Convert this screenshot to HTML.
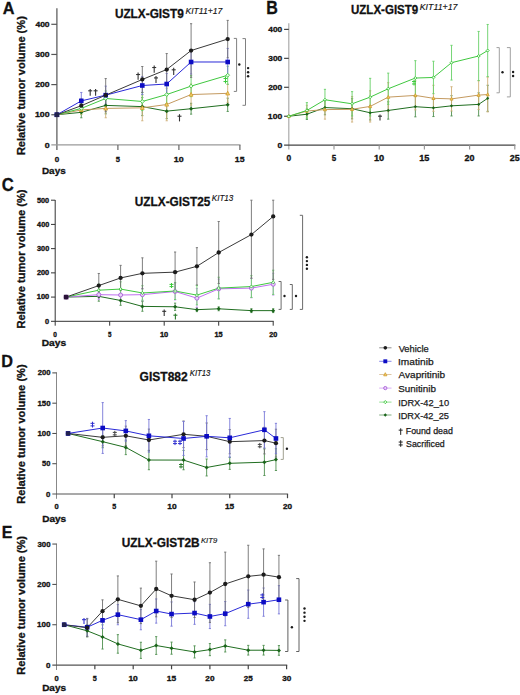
<!DOCTYPE html>
<html><head><meta charset="utf-8"><title>Tumor volume figure</title>
<style>
html,body{margin:0;padding:0;background:#fff;}
body{width:520px;height:695px;overflow:hidden;}
svg{display:block;font-family:"Liberation Sans", sans-serif;}
</style></head>
<body>
<svg width="520" height="695" viewBox="0 0 520 695" font-family='"Liberation Sans", sans-serif'>
<rect width="520" height="695" fill="#fff"/>
<text x="2.79" y="13.65" font-size="17.03" font-weight="bold" fill="#111" stroke="#111" stroke-width="0.3" textLength="11.75" lengthAdjust="spacingAndGlyphs">A</text>
<text x="114.89" y="18.40" font-size="12.57" font-weight="bold" fill="#111" stroke="#111" stroke-width="0.3" textLength="68.91" lengthAdjust="spacingAndGlyphs">UZLX-GIST9</text>
<text x="185.46" y="13.73" font-size="8.71" font-weight="normal" font-style="italic" fill="#111" stroke="#111" stroke-width="0.14" textLength="36.96" lengthAdjust="spacingAndGlyphs">KIT11+17</text>
<text transform="translate(25.15,155.12) rotate(-90)" x="0" y="0" font-size="11.09" font-weight="bold" fill="#111" stroke="#111" stroke-width="0.3" textLength="138.95" lengthAdjust="spacingAndGlyphs">Relative tumor volume (%)</text>
<line x1="56.9" y1="8.2" x2="56.9" y2="149.9" stroke="#555" stroke-width="1.2"/>
<line x1="51.3" y1="144.9" x2="240.5" y2="144.9" stroke="#9a9a9a" stroke-width="1.2"/>
<text x="44.70" y="147.55" font-size="7.29" font-weight="bold" fill="#111" stroke="#111" stroke-width="0.3" textLength="4.92" lengthAdjust="spacingAndGlyphs">0</text>
<line x1="51.3" y1="114.75" x2="56.9" y2="114.75" stroke="#555" stroke-width="1.2"/>
<text x="34.98" y="117.40" font-size="7.29" font-weight="bold" fill="#111" stroke="#111" stroke-width="0.3" textLength="14.65" lengthAdjust="spacingAndGlyphs">100</text>
<line x1="51.3" y1="84.60" x2="56.9" y2="84.60" stroke="#555" stroke-width="1.2"/>
<text x="35.25" y="87.25" font-size="7.29" font-weight="bold" fill="#111" stroke="#111" stroke-width="0.3" textLength="14.38" lengthAdjust="spacingAndGlyphs">200</text>
<line x1="51.3" y1="54.45" x2="56.9" y2="54.45" stroke="#555" stroke-width="1.2"/>
<text x="35.34" y="57.10" font-size="7.29" font-weight="bold" fill="#111" stroke="#111" stroke-width="0.3" textLength="14.29" lengthAdjust="spacingAndGlyphs">300</text>
<line x1="51.3" y1="24.30" x2="56.9" y2="24.30" stroke="#555" stroke-width="1.2"/>
<text x="35.42" y="26.95" font-size="7.29" font-weight="bold" fill="#111" stroke="#111" stroke-width="0.3" textLength="14.20" lengthAdjust="spacingAndGlyphs">400</text>
<text x="54.68" y="161.75" font-size="7.29" font-weight="bold" fill="#111" stroke="#111" stroke-width="0.3" textLength="4.45" lengthAdjust="spacingAndGlyphs">0</text>
<line x1="117.90" y1="144.9" x2="117.90" y2="149.9" stroke="#666" stroke-width="1.2"/>
<text x="115.77" y="161.75" font-size="7.39" font-weight="bold" fill="#111" stroke="#111" stroke-width="0.3" textLength="4.23" lengthAdjust="spacingAndGlyphs">5</text>
<line x1="178.90" y1="144.9" x2="178.90" y2="149.9" stroke="#666" stroke-width="1.2"/>
<text x="173.87" y="161.75" font-size="7.29" font-weight="bold" fill="#111" stroke="#111" stroke-width="0.3" textLength="9.85" lengthAdjust="spacingAndGlyphs">10</text>
<line x1="239.90" y1="144.9" x2="239.90" y2="149.9" stroke="#666" stroke-width="1.2"/>
<text x="234.88" y="161.75" font-size="7.39" font-weight="bold" fill="#111" stroke="#111" stroke-width="0.3" textLength="9.71" lengthAdjust="spacingAndGlyphs">15</text>
<text x="41.95" y="174.45" font-size="9.64" font-weight="bold" fill="#111" stroke="#111" stroke-width="0.3" textLength="23.75" lengthAdjust="spacingAndGlyphs">Days</text>
<path d="M81.30,106.91V117.77M80.20,106.91h2.2M80.20,117.77h2.2" stroke="#4e8e4e" stroke-width="0.9" fill="none"/>
<path d="M105.70,96.96V113.85M104.60,96.96h2.2M104.60,113.85h2.2" stroke="#4e8e4e" stroke-width="0.9" fill="none"/>
<path d="M142.30,97.56V115.65M141.20,97.56h2.2M141.20,115.65h2.2" stroke="#4e8e4e" stroke-width="0.9" fill="none"/>
<path d="M166.70,103.59V118.67M165.60,103.59h2.2M165.60,118.67h2.2" stroke="#4e8e4e" stroke-width="0.9" fill="none"/>
<path d="M191.10,103.29V114.15M190.00,103.29h2.2M190.00,114.15h2.2" stroke="#4e8e4e" stroke-width="0.9" fill="none"/>
<path d="M227.70,98.17V111.43M226.60,98.17h2.2M226.60,111.43h2.2" stroke="#4e8e4e" stroke-width="0.9" fill="none"/>
<path d="M56.90,114.75L81.30,112.34L105.70,105.40L142.30,106.61L166.70,111.13L191.10,108.72L227.70,104.80" fill="none" stroke="#206e20" stroke-width="1.0"/>
<path d="M81.30,105.40V114.45M80.20,105.40h2.2M80.20,114.45h2.2" stroke="#cfb078" stroke-width="0.9" fill="none"/>
<path d="M105.70,99.07V117.77M104.60,99.07h2.2M104.60,117.77h2.2" stroke="#cfb078" stroke-width="0.9" fill="none"/>
<path d="M142.30,94.85V120.78M141.20,94.85h2.2M141.20,120.78h2.2" stroke="#cfb078" stroke-width="0.9" fill="none"/>
<path d="M166.70,88.22V120.78M165.60,88.22h2.2M165.60,120.78h2.2" stroke="#cfb078" stroke-width="0.9" fill="none"/>
<path d="M191.10,84.00V105.10M190.00,84.00h2.2M190.00,105.10h2.2" stroke="#cfb078" stroke-width="0.9" fill="none"/>
<path d="M227.70,84.30V102.39M226.60,84.30h2.2M226.60,102.39h2.2" stroke="#cfb078" stroke-width="0.9" fill="none"/>
<path d="M56.90,114.75L81.30,109.93L105.70,108.42L142.30,107.82L166.70,104.50L191.10,94.55L227.70,93.34" fill="none" stroke="#c49a60" stroke-width="1.0"/>
<path d="M81.30,102.99V113.85M80.20,102.99h2.2M80.20,113.85h2.2" stroke="#68d068" stroke-width="0.9" fill="none"/>
<path d="M105.70,90.93V106.01M104.60,90.93h2.2M104.60,106.01h2.2" stroke="#68d068" stroke-width="0.9" fill="none"/>
<path d="M142.30,92.44V110.53M141.20,92.44h2.2M141.20,110.53h2.2" stroke="#68d068" stroke-width="0.9" fill="none"/>
<path d="M166.70,85.50V103.59M165.60,85.50h2.2M165.60,103.59h2.2" stroke="#68d068" stroke-width="0.9" fill="none"/>
<path d="M191.10,75.56V96.66M190.00,75.56h2.2M190.00,96.66h2.2" stroke="#68d068" stroke-width="0.9" fill="none"/>
<path d="M227.70,66.21V84.30M226.60,66.21h2.2M226.60,84.30h2.2" stroke="#68d068" stroke-width="0.9" fill="none"/>
<path d="M56.90,114.75L81.30,108.42L105.70,98.47L142.30,101.48L166.70,94.55L191.10,86.11L227.70,75.25" fill="none" stroke="#40c840" stroke-width="1.0"/>
<path d="M81.30,92.44V109.32M80.20,92.44h2.2M80.20,109.32h2.2" stroke="#7878d8" stroke-width="0.9" fill="none"/>
<path d="M105.70,86.11V104.20M104.60,86.11h2.2M104.60,104.20h2.2" stroke="#7878d8" stroke-width="0.9" fill="none"/>
<path d="M142.30,76.46V94.55M141.20,76.46h2.2M141.20,94.55h2.2" stroke="#7878d8" stroke-width="0.9" fill="none"/>
<path d="M166.70,73.44V94.55M165.60,73.44h2.2M165.60,94.55h2.2" stroke="#7878d8" stroke-width="0.9" fill="none"/>
<path d="M191.10,49.93V74.05M190.00,49.93h2.2M190.00,74.05h2.2" stroke="#7878d8" stroke-width="0.9" fill="none"/>
<path d="M227.70,48.42V75.56M226.60,48.42h2.2M226.60,75.56h2.2" stroke="#7878d8" stroke-width="0.9" fill="none"/>
<path d="M56.90,114.75L81.30,100.88L105.70,95.15L142.30,85.50L166.70,84.00L191.10,61.99L227.70,61.99" fill="none" stroke="#2a2ad8" stroke-width="1.0"/>
<path d="M81.30,99.07V112.34M80.20,99.07h2.2M80.20,112.34h2.2" stroke="#707070" stroke-width="0.9" fill="none"/>
<path d="M105.70,78.57V111.74M104.60,78.57h2.2M104.60,111.74h2.2" stroke="#707070" stroke-width="0.9" fill="none"/>
<path d="M142.30,66.51V92.44M141.20,66.51h2.2M141.20,92.44h2.2" stroke="#707070" stroke-width="0.9" fill="none"/>
<path d="M166.70,53.55V85.50M165.60,53.55h2.2M165.60,85.50h2.2" stroke="#707070" stroke-width="0.9" fill="none"/>
<path d="M191.10,23.70V77.36M190.00,23.70h2.2M190.00,77.36h2.2" stroke="#707070" stroke-width="0.9" fill="none"/>
<path d="M227.70,20.38V57.77M226.60,20.38h2.2M226.60,57.77h2.2" stroke="#707070" stroke-width="0.9" fill="none"/>
<path d="M56.90,114.75L81.30,105.71L105.70,95.15L142.30,79.47L166.70,69.53L191.10,50.53L227.70,39.07" fill="none" stroke="#3a3a3a" stroke-width="1.0"/>
<path d="M56.90,112.75L58.90,114.75L56.90,116.75L54.90,114.75Z" fill="#1a641a"/>
<path d="M81.30,110.34L83.30,112.34L81.30,114.34L79.30,112.34Z" fill="#1a641a"/>
<path d="M105.70,103.40L107.70,105.40L105.70,107.40L103.70,105.40Z" fill="#1a641a"/>
<path d="M142.30,104.61L144.30,106.61L142.30,108.61L140.30,106.61Z" fill="#1a641a"/>
<path d="M166.70,109.13L168.70,111.13L166.70,113.13L164.70,111.13Z" fill="#1a641a"/>
<path d="M191.10,106.72L193.10,108.72L191.10,110.72L189.10,108.72Z" fill="#1a641a"/>
<path d="M227.70,102.80L229.70,104.80L227.70,106.80L225.70,104.80Z" fill="#1a641a"/>
<path d="M56.90,112.65L58.80,116.35L55.00,116.35Z" fill="#f4d070" stroke="#d09a28" stroke-width="0.8"/>
<path d="M81.30,107.83L83.20,111.53L79.40,111.53Z" fill="#f4d070" stroke="#d09a28" stroke-width="0.8"/>
<path d="M105.70,106.32L107.60,110.02L103.80,110.02Z" fill="#f4d070" stroke="#d09a28" stroke-width="0.8"/>
<path d="M142.30,105.72L144.20,109.42L140.40,109.42Z" fill="#f4d070" stroke="#d09a28" stroke-width="0.8"/>
<path d="M166.70,102.40L168.60,106.10L164.80,106.10Z" fill="#f4d070" stroke="#d09a28" stroke-width="0.8"/>
<path d="M191.10,92.45L193.00,96.15L189.20,96.15Z" fill="#f4d070" stroke="#d09a28" stroke-width="0.8"/>
<path d="M227.70,91.24L229.60,94.94L225.80,94.94Z" fill="#f4d070" stroke="#d09a28" stroke-width="0.8"/>
<path d="M56.90,112.85L58.80,114.75L56.90,116.65L55.00,114.75Z" fill="#e6ffe6" stroke="#30c030" stroke-width="0.8"/>
<path d="M81.30,106.52L83.20,108.42L81.30,110.32L79.40,108.42Z" fill="#e6ffe6" stroke="#30c030" stroke-width="0.8"/>
<path d="M105.70,96.57L107.60,98.47L105.70,100.37L103.80,98.47Z" fill="#e6ffe6" stroke="#30c030" stroke-width="0.8"/>
<path d="M142.30,99.58L144.20,101.48L142.30,103.38L140.40,101.48Z" fill="#e6ffe6" stroke="#30c030" stroke-width="0.8"/>
<path d="M166.70,92.65L168.60,94.55L166.70,96.45L164.80,94.55Z" fill="#e6ffe6" stroke="#30c030" stroke-width="0.8"/>
<path d="M191.10,84.21L193.00,86.11L191.10,88.01L189.20,86.11Z" fill="#e6ffe6" stroke="#30c030" stroke-width="0.8"/>
<path d="M227.70,73.35L229.60,75.25L227.70,77.15L225.80,75.25Z" fill="#e6ffe6" stroke="#30c030" stroke-width="0.8"/>
<rect x="54.60" y="112.45" width="4.60" height="4.60" fill="#0c0cc4"/>
<rect x="79.00" y="98.58" width="4.60" height="4.60" fill="#0c0cc4"/>
<rect x="103.40" y="92.85" width="4.60" height="4.60" fill="#0c0cc4"/>
<rect x="140.00" y="83.20" width="4.60" height="4.60" fill="#0c0cc4"/>
<rect x="164.40" y="81.70" width="4.60" height="4.60" fill="#0c0cc4"/>
<rect x="188.80" y="59.69" width="4.60" height="4.60" fill="#0c0cc4"/>
<rect x="225.40" y="59.69" width="4.60" height="4.60" fill="#0c0cc4"/>
<circle cx="56.90" cy="114.75" r="2.15" fill="#1c1c1c"/>
<circle cx="81.30" cy="105.71" r="2.15" fill="#1c1c1c"/>
<circle cx="105.70" cy="95.15" r="2.15" fill="#1c1c1c"/>
<circle cx="142.30" cy="79.47" r="2.15" fill="#1c1c1c"/>
<circle cx="166.70" cy="69.53" r="2.15" fill="#1c1c1c"/>
<circle cx="191.10" cy="50.53" r="2.15" fill="#1c1c1c"/>
<circle cx="227.70" cy="39.07" r="2.15" fill="#1c1c1c"/>
<rect x="54.60" y="112.45" width="4.6" height="4.6" fill="#22224e"/>
<line x1="90.2" y1="88.9" x2="90.2" y2="95.7" stroke="#333" stroke-width="1.1"/>
<line x1="88.2" y1="90.804" x2="92.2" y2="90.804" stroke="#333" stroke-width="1.1"/>
<line x1="95.6" y1="88.9" x2="95.6" y2="95.7" stroke="#333" stroke-width="1.1"/>
<line x1="93.6" y1="90.804" x2="97.6" y2="90.804" stroke="#333" stroke-width="1.1"/>
<line x1="138.1" y1="72.5" x2="138.1" y2="79.7" stroke="#333" stroke-width="1.1"/>
<line x1="136.1" y1="74.516" x2="140.1" y2="74.516" stroke="#333" stroke-width="1.1"/>
<line x1="154.2" y1="65.5" x2="154.2" y2="72.7" stroke="#333" stroke-width="1.1"/>
<line x1="152.2" y1="67.516" x2="156.2" y2="67.516" stroke="#333" stroke-width="1.1"/>
<line x1="156.0" y1="75.9" x2="156.0" y2="83.10000000000001" stroke="#333" stroke-width="1.1"/>
<line x1="154.0" y1="77.91600000000001" x2="158.0" y2="77.91600000000001" stroke="#333" stroke-width="1.1"/>
<line x1="173.7" y1="67.8" x2="173.7" y2="75.0" stroke="#333" stroke-width="1.1"/>
<line x1="171.7" y1="69.816" x2="175.7" y2="69.816" stroke="#333" stroke-width="1.1"/>
<line x1="179.5" y1="114.2" x2="179.5" y2="121.4" stroke="#333" stroke-width="1.1"/>
<line x1="177.5" y1="116.21600000000001" x2="181.5" y2="116.21600000000001" stroke="#333" stroke-width="1.1"/>
<line x1="225.5" y1="76.5" x2="225.5" y2="83.5" stroke="#3ccc3c" stroke-width="1.0"/>
<line x1="223.5" y1="78.46" x2="227.5" y2="78.46" stroke="#3ccc3c" stroke-width="1.0"/>
<line x1="223.5" y1="81.54" x2="227.5" y2="81.54" stroke="#3ccc3c" stroke-width="1.0"/>
<path d="M233.79999999999998,38.4H236.6V91.4H233.79999999999998" fill="none" stroke="#808080" stroke-width="1.0"/>
<circle cx="239.3" cy="64.50" r="1.2" fill="#1a1a1a"/>
<path d="M242.5,38.6H245.5V105.3H242.5" fill="none" stroke="#808080" stroke-width="1.0"/>
<circle cx="248.1" cy="68.10" r="1.2" fill="#1a1a1a"/>
<circle cx="248.1" cy="72.20" r="1.2" fill="#1a1a1a"/>
<circle cx="248.1" cy="76.30" r="1.2" fill="#1a1a1a"/>
<text x="266.36" y="13.95" font-size="17.46" font-weight="bold" fill="#111" stroke="#111" stroke-width="0.3" textLength="11.60" lengthAdjust="spacingAndGlyphs">B</text>
<text x="351.01" y="14.40" font-size="12.00" font-weight="bold" fill="#111" stroke="#111" stroke-width="0.3" textLength="67.28" lengthAdjust="spacingAndGlyphs">UZLX-GIST9</text>
<text x="419.76" y="9.93" font-size="8.42" font-weight="normal" font-style="italic" fill="#111" stroke="#111" stroke-width="0.14" textLength="37.66" lengthAdjust="spacingAndGlyphs">KIT11+17</text>
<line x1="288.8" y1="23.2" x2="288.8" y2="149.6" stroke="#aaaaaa" stroke-width="1.2"/>
<line x1="284.1" y1="145.2" x2="515.4" y2="145.2" stroke="#444" stroke-width="1.2"/>
<text x="277.40" y="148.10" font-size="8.00" font-weight="bold" fill="#111" stroke="#111" stroke-width="0.3" textLength="4.80" lengthAdjust="spacingAndGlyphs">0</text>
<line x1="284.1" y1="116.25" x2="288.8" y2="116.25" stroke="#444" stroke-width="1.2"/>
<text x="267.89" y="119.15" font-size="8.00" font-weight="bold" fill="#111" stroke="#111" stroke-width="0.3" textLength="14.33" lengthAdjust="spacingAndGlyphs">100</text>
<line x1="284.1" y1="87.30" x2="288.8" y2="87.30" stroke="#444" stroke-width="1.2"/>
<text x="268.16" y="90.20" font-size="8.00" font-weight="bold" fill="#111" stroke="#111" stroke-width="0.3" textLength="14.06" lengthAdjust="spacingAndGlyphs">200</text>
<line x1="284.1" y1="58.35" x2="288.8" y2="58.35" stroke="#444" stroke-width="1.2"/>
<text x="268.24" y="61.25" font-size="8.00" font-weight="bold" fill="#111" stroke="#111" stroke-width="0.3" textLength="13.97" lengthAdjust="spacingAndGlyphs">300</text>
<line x1="284.1" y1="29.40" x2="288.8" y2="29.40" stroke="#444" stroke-width="1.2"/>
<text x="268.33" y="32.30" font-size="8.00" font-weight="bold" fill="#111" stroke="#111" stroke-width="0.3" textLength="13.89" lengthAdjust="spacingAndGlyphs">400</text>
<text x="286.46" y="160.55" font-size="8.43" font-weight="bold" fill="#111" stroke="#111" stroke-width="0.3" textLength="4.68" lengthAdjust="spacingAndGlyphs">0</text>
<line x1="334.00" y1="145.2" x2="334.00" y2="149.6" stroke="#999" stroke-width="1.2"/>
<text x="331.76" y="160.55" font-size="8.55" font-weight="bold" fill="#111" stroke="#111" stroke-width="0.3" textLength="4.45" lengthAdjust="spacingAndGlyphs">5</text>
<line x1="379.20" y1="145.2" x2="379.20" y2="149.6" stroke="#999" stroke-width="1.2"/>
<text x="373.95" y="160.55" font-size="8.43" font-weight="bold" fill="#111" stroke="#111" stroke-width="0.3" textLength="10.29" lengthAdjust="spacingAndGlyphs">10</text>
<line x1="424.40" y1="145.2" x2="424.40" y2="149.6" stroke="#999" stroke-width="1.2"/>
<text x="419.16" y="160.55" font-size="8.55" font-weight="bold" fill="#111" stroke="#111" stroke-width="0.3" textLength="10.14" lengthAdjust="spacingAndGlyphs">15</text>
<line x1="469.60" y1="145.2" x2="469.60" y2="149.6" stroke="#999" stroke-width="1.2"/>
<text x="464.64" y="160.55" font-size="8.43" font-weight="bold" fill="#111" stroke="#111" stroke-width="0.3" textLength="9.99" lengthAdjust="spacingAndGlyphs">20</text>
<line x1="514.80" y1="145.2" x2="514.80" y2="149.6" stroke="#999" stroke-width="1.2"/>
<text x="509.84" y="160.55" font-size="8.43" font-weight="bold" fill="#111" stroke="#111" stroke-width="0.3" textLength="9.85" lengthAdjust="spacingAndGlyphs">25</text>
<path d="M306.88,109.01V119.43M305.78,109.01h2.2M305.78,119.43h2.2" stroke="#4e8e4e" stroke-width="0.9" fill="none"/>
<path d="M324.96,100.33V114.80M323.86,100.33h2.2M323.86,114.80h2.2" stroke="#4e8e4e" stroke-width="0.9" fill="none"/>
<path d="M352.08,98.59V118.86M350.98,98.59h2.2M350.98,118.86h2.2" stroke="#4e8e4e" stroke-width="0.9" fill="none"/>
<path d="M370.16,105.54V120.01M369.06,105.54h2.2M369.06,120.01h2.2" stroke="#4e8e4e" stroke-width="0.9" fill="none"/>
<path d="M388.24,101.77V119.14M387.14,101.77h2.2M387.14,119.14h2.2" stroke="#4e8e4e" stroke-width="0.9" fill="none"/>
<path d="M415.36,96.56V116.83M414.26,96.56h2.2M414.26,116.83h2.2" stroke="#4e8e4e" stroke-width="0.9" fill="none"/>
<path d="M433.44,99.17V116.54M432.34,99.17h2.2M432.34,116.54h2.2" stroke="#4e8e4e" stroke-width="0.9" fill="none"/>
<path d="M451.52,95.70V115.96M450.42,95.70h2.2M450.42,115.96h2.2" stroke="#4e8e4e" stroke-width="0.9" fill="none"/>
<path d="M478.64,92.80V115.96M477.54,92.80h2.2M477.54,115.96h2.2" stroke="#4e8e4e" stroke-width="0.9" fill="none"/>
<path d="M487.68,85.27V111.33M486.58,85.27h2.2M486.58,111.33h2.2" stroke="#4e8e4e" stroke-width="0.9" fill="none"/>
<path d="M288.80,116.25L306.88,114.22L324.96,107.56L352.08,108.72L370.16,112.78L388.24,110.46L415.36,106.70L433.44,107.85L451.52,105.83L478.64,104.38L487.68,98.30" fill="none" stroke="#206e20" stroke-width="1.0"/>
<path d="M306.88,105.25V116.83M305.78,105.25h2.2M305.78,116.83h2.2" stroke="#cfb078" stroke-width="0.9" fill="none"/>
<path d="M324.96,100.04V119.14M323.86,100.04h2.2M323.86,119.14h2.2" stroke="#cfb078" stroke-width="0.9" fill="none"/>
<path d="M352.08,96.56V122.04M350.98,96.56h2.2M350.98,122.04h2.2" stroke="#cfb078" stroke-width="0.9" fill="none"/>
<path d="M370.16,90.77V122.04M369.06,90.77h2.2M369.06,122.04h2.2" stroke="#cfb078" stroke-width="0.9" fill="none"/>
<path d="M388.24,82.67V111.62M387.14,82.67h2.2M387.14,111.62h2.2" stroke="#cfb078" stroke-width="0.9" fill="none"/>
<path d="M415.36,80.93V109.88M414.26,80.93h2.2M414.26,109.88h2.2" stroke="#cfb078" stroke-width="0.9" fill="none"/>
<path d="M433.44,85.27V111.33M432.34,85.27h2.2M432.34,111.33h2.2" stroke="#cfb078" stroke-width="0.9" fill="none"/>
<path d="M451.52,86.72V111.04M450.42,86.72h2.2M450.42,111.04h2.2" stroke="#cfb078" stroke-width="0.9" fill="none"/>
<path d="M478.64,80.64V109.59M477.54,80.64h2.2M477.54,109.59h2.2" stroke="#cfb078" stroke-width="0.9" fill="none"/>
<path d="M487.68,77.17V111.91M486.58,77.17h2.2M486.58,111.91h2.2" stroke="#cfb078" stroke-width="0.9" fill="none"/>
<path d="M288.80,116.25L306.88,111.04L324.96,109.59L352.08,109.30L370.16,106.41L388.24,97.14L415.36,95.41L433.44,98.30L451.52,98.88L478.64,95.12L487.68,94.54" fill="none" stroke="#c49a60" stroke-width="1.0"/>
<path d="M306.88,102.64V118.28M305.78,102.64h2.2M305.78,118.28h2.2" stroke="#68d068" stroke-width="0.9" fill="none"/>
<path d="M324.96,89.33V110.17M323.86,89.33h2.2M323.86,110.17h2.2" stroke="#68d068" stroke-width="0.9" fill="none"/>
<path d="M352.08,91.64V115.96M350.98,91.64h2.2M350.98,115.96h2.2" stroke="#68d068" stroke-width="0.9" fill="none"/>
<path d="M370.16,78.33V115.96M369.06,78.33h2.2M369.06,115.96h2.2" stroke="#68d068" stroke-width="0.9" fill="none"/>
<path d="M388.24,73.11V104.38M387.14,73.11h2.2M387.14,104.38h2.2" stroke="#68d068" stroke-width="0.9" fill="none"/>
<path d="M415.36,60.67V95.41M414.26,60.67h2.2M414.26,95.41h2.2" stroke="#68d068" stroke-width="0.9" fill="none"/>
<path d="M433.44,61.24V93.67M432.34,61.24h2.2M432.34,93.67h2.2" stroke="#68d068" stroke-width="0.9" fill="none"/>
<path d="M451.52,45.32V80.06M450.42,45.32h2.2M450.42,80.06h2.2" stroke="#68d068" stroke-width="0.9" fill="none"/>
<path d="M478.64,31.43V80.64M477.54,31.43h2.2M477.54,80.64h2.2" stroke="#68d068" stroke-width="0.9" fill="none"/>
<path d="M487.68,24.48V76.59M486.58,24.48h2.2M486.58,76.59h2.2" stroke="#68d068" stroke-width="0.9" fill="none"/>
<path d="M288.80,116.25L306.88,110.46L324.96,99.75L352.08,103.80L370.16,97.14L388.24,88.75L415.36,78.04L433.44,77.46L451.52,62.69L478.64,56.03L487.68,50.53" fill="none" stroke="#40c840" stroke-width="1.0"/>
<path d="M288.80,114.65L290.40,116.25L288.80,117.85L287.20,116.25Z" fill="#1a641a"/>
<path d="M306.88,112.62L308.48,114.22L306.88,115.82L305.28,114.22Z" fill="#1a641a"/>
<path d="M324.96,105.97L326.56,107.56L324.96,109.16L323.36,107.56Z" fill="#1a641a"/>
<path d="M352.08,107.12L353.68,108.72L352.08,110.32L350.48,108.72Z" fill="#1a641a"/>
<path d="M370.16,111.18L371.76,112.78L370.16,114.38L368.56,112.78Z" fill="#1a641a"/>
<path d="M388.24,108.86L389.84,110.46L388.24,112.06L386.64,110.46Z" fill="#1a641a"/>
<path d="M415.36,105.10L416.96,106.70L415.36,108.30L413.76,106.70Z" fill="#1a641a"/>
<path d="M433.44,106.25L435.04,107.85L433.44,109.45L431.84,107.85Z" fill="#1a641a"/>
<path d="M451.52,104.23L453.12,105.83L451.52,107.43L449.92,105.83Z" fill="#1a641a"/>
<path d="M478.64,102.78L480.24,104.38L478.64,105.98L477.04,104.38Z" fill="#1a641a"/>
<path d="M487.68,96.70L489.28,98.30L487.68,99.90L486.08,98.30Z" fill="#1a641a"/>
<path d="M288.80,114.53L290.32,117.47L287.28,117.47Z" fill="#f4d070" stroke="#d09a28" stroke-width="0.8"/>
<path d="M306.88,109.32L308.40,112.26L305.36,112.26Z" fill="#f4d070" stroke="#d09a28" stroke-width="0.8"/>
<path d="M324.96,107.87L326.48,110.81L323.44,110.81Z" fill="#f4d070" stroke="#d09a28" stroke-width="0.8"/>
<path d="M352.08,107.58L353.60,110.52L350.56,110.52Z" fill="#f4d070" stroke="#d09a28" stroke-width="0.8"/>
<path d="M370.16,104.69L371.68,107.63L368.64,107.63Z" fill="#f4d070" stroke="#d09a28" stroke-width="0.8"/>
<path d="M388.24,95.42L389.76,98.36L386.72,98.36Z" fill="#f4d070" stroke="#d09a28" stroke-width="0.8"/>
<path d="M415.36,93.69L416.88,96.63L413.84,96.63Z" fill="#f4d070" stroke="#d09a28" stroke-width="0.8"/>
<path d="M433.44,96.58L434.96,99.52L431.92,99.52Z" fill="#f4d070" stroke="#d09a28" stroke-width="0.8"/>
<path d="M451.52,97.16L453.04,100.10L450.00,100.10Z" fill="#f4d070" stroke="#d09a28" stroke-width="0.8"/>
<path d="M478.64,93.40L480.16,96.34L477.12,96.34Z" fill="#f4d070" stroke="#d09a28" stroke-width="0.8"/>
<path d="M487.68,92.82L489.20,95.76L486.16,95.76Z" fill="#f4d070" stroke="#d09a28" stroke-width="0.8"/>
<path d="M288.80,114.73L290.32,116.25L288.80,117.77L287.28,116.25Z" fill="#e6ffe6" stroke="#30c030" stroke-width="0.8"/>
<path d="M306.88,108.94L308.40,110.46L306.88,111.98L305.36,110.46Z" fill="#e6ffe6" stroke="#30c030" stroke-width="0.8"/>
<path d="M324.96,98.23L326.48,99.75L324.96,101.27L323.44,99.75Z" fill="#e6ffe6" stroke="#30c030" stroke-width="0.8"/>
<path d="M352.08,102.28L353.60,103.80L352.08,105.32L350.56,103.80Z" fill="#e6ffe6" stroke="#30c030" stroke-width="0.8"/>
<path d="M370.16,95.62L371.68,97.14L370.16,98.66L368.64,97.14Z" fill="#e6ffe6" stroke="#30c030" stroke-width="0.8"/>
<path d="M388.24,87.23L389.76,88.75L388.24,90.27L386.72,88.75Z" fill="#e6ffe6" stroke="#30c030" stroke-width="0.8"/>
<path d="M415.36,76.52L416.88,78.04L415.36,79.56L413.84,78.04Z" fill="#e6ffe6" stroke="#30c030" stroke-width="0.8"/>
<path d="M433.44,75.94L434.96,77.46L433.44,78.98L431.92,77.46Z" fill="#e6ffe6" stroke="#30c030" stroke-width="0.8"/>
<path d="M451.52,61.17L453.04,62.69L451.52,64.21L450.00,62.69Z" fill="#e6ffe6" stroke="#30c030" stroke-width="0.8"/>
<path d="M478.64,54.51L480.16,56.03L478.64,57.55L477.12,56.03Z" fill="#e6ffe6" stroke="#30c030" stroke-width="0.8"/>
<path d="M487.68,49.01L489.20,50.53L487.68,52.05L486.16,50.53Z" fill="#e6ffe6" stroke="#30c030" stroke-width="0.8"/>
<line x1="380.0" y1="114.5" x2="380.0" y2="120.5" stroke="#333" stroke-width="1.1"/>
<line x1="378.0" y1="116.18" x2="382.0" y2="116.18" stroke="#333" stroke-width="1.1"/>
<line x1="414.0" y1="80.0" x2="414.0" y2="85.5" stroke="#3ccc3c" stroke-width="1.0"/>
<line x1="412.0" y1="81.54" x2="416.0" y2="81.54" stroke="#3ccc3c" stroke-width="1.0"/>
<line x1="412.0" y1="83.96" x2="416.0" y2="83.96" stroke="#3ccc3c" stroke-width="1.0"/>
<path d="M496.5,47.6H499.3V92.8H496.5" fill="none" stroke="#a0a0a0" stroke-width="1.0"/>
<circle cx="502.5" cy="72.30" r="1.2" fill="#1a1a1a"/>
<path d="M506.90000000000003,47.6H510.3V96.9H506.90000000000003" fill="none" stroke="#a0a0a0" stroke-width="1.0"/>
<circle cx="513.1" cy="72.05" r="1.2" fill="#1a1a1a"/>
<circle cx="513.1" cy="75.95" r="1.2" fill="#1a1a1a"/>
<text x="1.73" y="191.35" font-size="17.50" font-weight="bold" fill="#111" stroke="#111" stroke-width="0.3" textLength="12.02" lengthAdjust="spacingAndGlyphs">C</text>
<text x="134.79" y="205.60" font-size="13.64" font-weight="bold" fill="#111" stroke="#111" stroke-width="0.3" textLength="75.50" lengthAdjust="spacingAndGlyphs">UZLX-GIST25</text>
<text x="211.73" y="200.53" font-size="8.59" font-weight="normal" font-style="italic" fill="#111" stroke="#111" stroke-width="0.14" textLength="21.67" lengthAdjust="spacingAndGlyphs">KIT13</text>
<text transform="translate(25.05,328.42) rotate(-90)" x="0" y="0" font-size="10.94" font-weight="bold" fill="#111" stroke="#111" stroke-width="0.3" textLength="138.95" lengthAdjust="spacingAndGlyphs">Relative tumor volume (%)</text>
<line x1="55.2" y1="200.0" x2="55.2" y2="325.7" stroke="#333" stroke-width="1.0"/>
<line x1="51.0" y1="321.3" x2="273.7" y2="321.3" stroke="#333" stroke-width="1.0"/>
<text x="45.06" y="323.65" font-size="6.43" font-weight="bold" fill="#111" stroke="#111" stroke-width="0.3" textLength="4.10" lengthAdjust="spacingAndGlyphs">0</text>
<line x1="51.0" y1="297.08" x2="55.2" y2="297.08" stroke="#333" stroke-width="1.0"/>
<text x="36.77" y="299.43" font-size="6.43" font-weight="bold" fill="#111" stroke="#111" stroke-width="0.3" textLength="12.41" lengthAdjust="spacingAndGlyphs">100</text>
<line x1="51.0" y1="272.86" x2="55.2" y2="272.86" stroke="#333" stroke-width="1.0"/>
<text x="36.99" y="275.21" font-size="6.43" font-weight="bold" fill="#111" stroke="#111" stroke-width="0.3" textLength="12.17" lengthAdjust="spacingAndGlyphs">200</text>
<line x1="51.0" y1="248.64" x2="55.2" y2="248.64" stroke="#333" stroke-width="1.0"/>
<text x="37.07" y="250.99" font-size="6.43" font-weight="bold" fill="#111" stroke="#111" stroke-width="0.3" textLength="12.10" lengthAdjust="spacingAndGlyphs">300</text>
<line x1="51.0" y1="224.42" x2="55.2" y2="224.42" stroke="#333" stroke-width="1.0"/>
<text x="37.14" y="226.77" font-size="6.43" font-weight="bold" fill="#111" stroke="#111" stroke-width="0.3" textLength="12.02" lengthAdjust="spacingAndGlyphs">400</text>
<line x1="51.0" y1="200.20" x2="55.2" y2="200.20" stroke="#333" stroke-width="1.0"/>
<text x="37.03" y="202.55" font-size="6.43" font-weight="bold" fill="#111" stroke="#111" stroke-width="0.3" textLength="12.13" lengthAdjust="spacingAndGlyphs">500</text>
<text x="53.39" y="336.55" font-size="6.29" font-weight="bold" fill="#111" stroke="#111" stroke-width="0.3" textLength="3.63" lengthAdjust="spacingAndGlyphs">0</text>
<line x1="109.70" y1="321.3" x2="109.70" y2="325.7" stroke="#333" stroke-width="1.0"/>
<text x="107.96" y="336.55" font-size="6.38" font-weight="bold" fill="#111" stroke="#111" stroke-width="0.3" textLength="3.45" lengthAdjust="spacingAndGlyphs">5</text>
<line x1="164.20" y1="321.3" x2="164.20" y2="325.7" stroke="#333" stroke-width="1.0"/>
<text x="159.96" y="336.55" font-size="6.29" font-weight="bold" fill="#111" stroke="#111" stroke-width="0.3" textLength="8.30" lengthAdjust="spacingAndGlyphs">10</text>
<line x1="218.70" y1="321.3" x2="218.70" y2="325.7" stroke="#333" stroke-width="1.0"/>
<text x="214.47" y="336.55" font-size="6.38" font-weight="bold" fill="#111" stroke="#111" stroke-width="0.3" textLength="8.18" lengthAdjust="spacingAndGlyphs">15</text>
<line x1="273.20" y1="321.3" x2="273.20" y2="325.7" stroke="#333" stroke-width="1.0"/>
<text x="269.20" y="336.55" font-size="6.29" font-weight="bold" fill="#111" stroke="#111" stroke-width="0.3" textLength="8.06" lengthAdjust="spacingAndGlyphs">20</text>
<text x="41.74" y="346.35" font-size="8.48" font-weight="bold" fill="#111" stroke="#111" stroke-width="0.3" textLength="24.38" lengthAdjust="spacingAndGlyphs">Days</text>
<path d="M98.80,291.51V301.20M97.70,291.51h2.2M97.70,301.20h2.2" stroke="#4e8e4e" stroke-width="0.9" fill="none"/>
<path d="M120.60,295.63V305.31M119.50,295.63h2.2M119.50,305.31h2.2" stroke="#4e8e4e" stroke-width="0.9" fill="none"/>
<path d="M142.40,301.56V311.25M141.30,301.56h2.2M141.30,311.25h2.2" stroke="#4e8e4e" stroke-width="0.9" fill="none"/>
<path d="M175.10,303.13V310.40M174.00,303.13h2.2M174.00,310.40h2.2" stroke="#4e8e4e" stroke-width="0.9" fill="none"/>
<path d="M196.90,307.74V311.61M195.80,307.74h2.2M195.80,311.61h2.2" stroke="#4e8e4e" stroke-width="0.9" fill="none"/>
<path d="M218.70,306.86V310.74M217.60,306.86h2.2M217.60,310.74h2.2" stroke="#4e8e4e" stroke-width="0.9" fill="none"/>
<path d="M251.40,308.71V312.58M250.30,308.71h2.2M250.30,312.58h2.2" stroke="#4e8e4e" stroke-width="0.9" fill="none"/>
<path d="M273.20,308.71V312.58M272.10,308.71h2.2M272.10,312.58h2.2" stroke="#4e8e4e" stroke-width="0.9" fill="none"/>
<path d="M66.10,297.08L98.80,296.35L120.60,300.47L142.40,306.40L175.10,306.77L196.90,309.67L218.70,308.80L251.40,310.64L273.20,310.64" fill="none" stroke="#206e20" stroke-width="1.0"/>
<path d="M98.80,289.81V299.50M97.70,289.81h2.2M97.70,299.50h2.2" stroke="#c890f0" stroke-width="0.9" fill="none"/>
<path d="M120.60,288.94V301.05M119.50,288.94h2.2M119.50,301.05h2.2" stroke="#c890f0" stroke-width="0.9" fill="none"/>
<path d="M142.40,288.60V300.71M141.30,288.60h2.2M141.30,300.71h2.2" stroke="#c890f0" stroke-width="0.9" fill="none"/>
<path d="M175.10,283.03V299.99M174.00,283.03h2.2M174.00,299.99h2.2" stroke="#c890f0" stroke-width="0.9" fill="none"/>
<path d="M196.90,288.48V307.86M195.80,288.48h2.2M195.80,307.86h2.2" stroke="#c890f0" stroke-width="0.9" fill="none"/>
<path d="M218.70,279.16V298.53M217.60,279.16h2.2M217.60,298.53h2.2" stroke="#c890f0" stroke-width="0.9" fill="none"/>
<path d="M251.40,278.43V297.81M250.30,278.43h2.2M250.30,297.81h2.2" stroke="#c890f0" stroke-width="0.9" fill="none"/>
<path d="M273.20,273.34V295.14M272.10,273.34h2.2M272.10,295.14h2.2" stroke="#c890f0" stroke-width="0.9" fill="none"/>
<path d="M66.10,297.08L98.80,294.66L120.60,295.00L142.40,294.66L175.10,291.51L196.90,298.17L218.70,288.85L251.40,288.12L273.20,284.24" fill="none" stroke="#c070f0" stroke-width="1.0"/>
<path d="M98.80,284.12V296.23M97.70,284.12h2.2M97.70,296.23h2.2" stroke="#68d068" stroke-width="0.9" fill="none"/>
<path d="M120.60,281.82V296.35M119.50,281.82h2.2M119.50,296.35h2.2" stroke="#68d068" stroke-width="0.9" fill="none"/>
<path d="M142.40,285.70V300.23M141.30,285.70h2.2M141.30,300.23h2.2" stroke="#68d068" stroke-width="0.9" fill="none"/>
<path d="M175.10,282.55V299.50M174.00,282.55h2.2M174.00,299.50h2.2" stroke="#68d068" stroke-width="0.9" fill="none"/>
<path d="M196.90,285.45V304.83M195.80,285.45h2.2M195.80,304.83h2.2" stroke="#68d068" stroke-width="0.9" fill="none"/>
<path d="M218.70,277.22V299.02M217.60,277.22h2.2M217.60,299.02h2.2" stroke="#68d068" stroke-width="0.9" fill="none"/>
<path d="M251.40,275.65V297.44M250.30,275.65h2.2M250.30,297.44h2.2" stroke="#68d068" stroke-width="0.9" fill="none"/>
<path d="M273.20,270.20V294.42M272.10,270.20h2.2M272.10,294.42h2.2" stroke="#68d068" stroke-width="0.9" fill="none"/>
<path d="M66.10,297.08L98.80,290.18L120.60,289.09L142.40,292.96L175.10,291.03L196.90,295.14L218.70,288.12L251.40,286.54L273.20,282.31" fill="none" stroke="#40c840" stroke-width="1.0"/>
<path d="M98.80,273.47V297.69M97.70,273.47h2.2M97.70,297.69h2.2" stroke="#707070" stroke-width="0.9" fill="none"/>
<path d="M120.60,265.35V290.54M119.50,265.35h2.2M119.50,290.54h2.2" stroke="#707070" stroke-width="0.9" fill="none"/>
<path d="M142.40,257.84V288.85M141.30,257.84h2.2M141.30,288.85h2.2" stroke="#707070" stroke-width="0.9" fill="none"/>
<path d="M175.10,252.03V292.24M174.00,252.03h2.2M174.00,292.24h2.2" stroke="#707070" stroke-width="0.9" fill="none"/>
<path d="M196.90,247.67V284.97M195.80,247.67h2.2M195.80,284.97h2.2" stroke="#707070" stroke-width="0.9" fill="none"/>
<path d="M218.70,221.51V283.52M217.60,221.51h2.2M217.60,283.52h2.2" stroke="#707070" stroke-width="0.9" fill="none"/>
<path d="M251.40,200.20V278.19M250.30,200.20h2.2M250.30,278.19h2.2" stroke="#707070" stroke-width="0.9" fill="none"/>
<path d="M273.20,200.20V279.40M272.10,200.20h2.2M272.10,279.40h2.2" stroke="#707070" stroke-width="0.9" fill="none"/>
<path d="M66.10,297.08L98.80,285.58L120.60,277.95L142.40,273.34L175.10,272.13L196.90,266.32L218.70,252.52L251.40,234.59L273.20,216.43" fill="none" stroke="#3a3a3a" stroke-width="1.0"/>
<path d="M66.10,295.08L68.10,297.08L66.10,299.08L64.10,297.08Z" fill="#1a641a"/>
<path d="M98.80,294.35L100.80,296.35L98.80,298.35L96.80,296.35Z" fill="#1a641a"/>
<path d="M120.60,298.47L122.60,300.47L120.60,302.47L118.60,300.47Z" fill="#1a641a"/>
<path d="M142.40,304.40L144.40,306.40L142.40,308.40L140.40,306.40Z" fill="#1a641a"/>
<path d="M175.10,304.77L177.10,306.77L175.10,308.77L173.10,306.77Z" fill="#1a641a"/>
<path d="M196.90,307.67L198.90,309.67L196.90,311.67L194.90,309.67Z" fill="#1a641a"/>
<path d="M218.70,306.80L220.70,308.80L218.70,310.80L216.70,308.80Z" fill="#1a641a"/>
<path d="M251.40,308.64L253.40,310.64L251.40,312.64L249.40,310.64Z" fill="#1a641a"/>
<path d="M273.20,308.64L275.20,310.64L273.20,312.64L271.20,310.64Z" fill="#1a641a"/>
<circle cx="66.10" cy="297.08" r="2.00" fill="#e8d0f8" stroke="#a860d8" stroke-width="0.9"/>
<circle cx="98.80" cy="294.66" r="2.00" fill="#e8d0f8" stroke="#a860d8" stroke-width="0.9"/>
<circle cx="120.60" cy="295.00" r="2.00" fill="#e8d0f8" stroke="#a860d8" stroke-width="0.9"/>
<circle cx="142.40" cy="294.66" r="2.00" fill="#e8d0f8" stroke="#a860d8" stroke-width="0.9"/>
<circle cx="175.10" cy="291.51" r="2.00" fill="#e8d0f8" stroke="#a860d8" stroke-width="0.9"/>
<circle cx="196.90" cy="298.17" r="2.00" fill="#e8d0f8" stroke="#a860d8" stroke-width="0.9"/>
<circle cx="218.70" cy="288.85" r="2.00" fill="#e8d0f8" stroke="#a860d8" stroke-width="0.9"/>
<circle cx="251.40" cy="288.12" r="2.00" fill="#e8d0f8" stroke="#a860d8" stroke-width="0.9"/>
<circle cx="273.20" cy="284.24" r="2.00" fill="#e8d0f8" stroke="#a860d8" stroke-width="0.9"/>
<path d="M66.10,295.56L67.62,297.08L66.10,298.60L64.58,297.08Z" fill="#e6ffe6" stroke="#30c030" stroke-width="0.8"/>
<path d="M98.80,288.66L100.32,290.18L98.80,291.70L97.28,290.18Z" fill="#e6ffe6" stroke="#30c030" stroke-width="0.8"/>
<path d="M120.60,287.57L122.12,289.09L120.60,290.61L119.08,289.09Z" fill="#e6ffe6" stroke="#30c030" stroke-width="0.8"/>
<path d="M142.40,291.44L143.92,292.96L142.40,294.48L140.88,292.96Z" fill="#e6ffe6" stroke="#30c030" stroke-width="0.8"/>
<path d="M175.10,289.51L176.62,291.03L175.10,292.55L173.58,291.03Z" fill="#e6ffe6" stroke="#30c030" stroke-width="0.8"/>
<path d="M196.90,293.62L198.42,295.14L196.90,296.66L195.38,295.14Z" fill="#e6ffe6" stroke="#30c030" stroke-width="0.8"/>
<path d="M218.70,286.60L220.22,288.12L218.70,289.64L217.18,288.12Z" fill="#e6ffe6" stroke="#30c030" stroke-width="0.8"/>
<path d="M251.40,285.02L252.92,286.54L251.40,288.06L249.88,286.54Z" fill="#e6ffe6" stroke="#30c030" stroke-width="0.8"/>
<path d="M273.20,280.79L274.72,282.31L273.20,283.83L271.68,282.31Z" fill="#e6ffe6" stroke="#30c030" stroke-width="0.8"/>
<circle cx="66.10" cy="297.08" r="2.15" fill="#1c1c1c"/>
<circle cx="98.80" cy="285.58" r="2.15" fill="#1c1c1c"/>
<circle cx="120.60" cy="277.95" r="2.15" fill="#1c1c1c"/>
<circle cx="142.40" cy="273.34" r="2.15" fill="#1c1c1c"/>
<circle cx="175.10" cy="272.13" r="2.15" fill="#1c1c1c"/>
<circle cx="196.90" cy="266.32" r="2.15" fill="#1c1c1c"/>
<circle cx="218.70" cy="252.52" r="2.15" fill="#1c1c1c"/>
<circle cx="251.40" cy="234.59" r="2.15" fill="#1c1c1c"/>
<circle cx="273.20" cy="216.43" r="2.15" fill="#1c1c1c"/>
<rect x="63.80" y="294.78" width="4.6" height="4.6" fill="#2a1238"/>
<line x1="164.2" y1="309.5" x2="164.2" y2="316.0" stroke="#333" stroke-width="1.1"/>
<line x1="162.2" y1="311.32" x2="166.2" y2="311.32" stroke="#333" stroke-width="1.1"/>
<line x1="175.4" y1="313.5" x2="175.4" y2="319.5" stroke="#2a7a2a" stroke-width="1.1"/>
<line x1="173.4" y1="315.18" x2="177.4" y2="315.18" stroke="#2a7a2a" stroke-width="1.1"/>
<line x1="171.5" y1="283.0" x2="171.5" y2="288.0" stroke="#3ccc3c" stroke-width="1.0"/>
<line x1="169.5" y1="284.4" x2="173.5" y2="284.4" stroke="#3ccc3c" stroke-width="1.0"/>
<line x1="169.5" y1="286.6" x2="173.5" y2="286.6" stroke="#3ccc3c" stroke-width="1.0"/>
<path d="M299.8,215.3H302.6V309.4H299.8" fill="none" stroke="#6a6a6a" stroke-width="1.0"/>
<circle cx="306.9" cy="257.30" r="1.2" fill="#1a1a1a"/>
<circle cx="306.9" cy="261.10" r="1.2" fill="#1a1a1a"/>
<circle cx="306.9" cy="264.90" r="1.2" fill="#1a1a1a"/>
<circle cx="306.9" cy="268.70" r="1.2" fill="#1a1a1a"/>
<path d="M278.6,281.5H281.1V309.4H278.6" fill="none" stroke="#6a6a6a" stroke-width="1.0"/>
<circle cx="284.5" cy="296.00" r="1.2" fill="#1a1a1a"/>
<path d="M289.8,284.5H292.3V309.4H289.8" fill="none" stroke="#6a6a6a" stroke-width="1.0"/>
<circle cx="296.0" cy="296.00" r="1.2" fill="#1a1a1a"/>
<text x="1.34" y="367.05" font-size="16.74" font-weight="bold" fill="#111" stroke="#111" stroke-width="0.3" textLength="11.74" lengthAdjust="spacingAndGlyphs">D</text>
<text x="139.62" y="380.90" font-size="13.14" font-weight="bold" fill="#111" stroke="#111" stroke-width="0.3" textLength="48.09" lengthAdjust="spacingAndGlyphs">GIST882</text>
<text x="189.69" y="375.83" font-size="8.16" font-weight="normal" font-style="italic" fill="#111" stroke="#111" stroke-width="0.14" textLength="20.76" lengthAdjust="spacingAndGlyphs">KIT13</text>
<text transform="translate(25.05,503.72) rotate(-90)" x="0" y="0" font-size="10.94" font-weight="bold" fill="#111" stroke="#111" stroke-width="0.3" textLength="139.36" lengthAdjust="spacingAndGlyphs">Relative tumor volume (%)</text>
<line x1="56.5" y1="372.3" x2="56.5" y2="498.8" stroke="#888" stroke-width="1.0"/>
<line x1="52.3" y1="494.0" x2="288.1" y2="494.0" stroke="#555" stroke-width="1.2"/>
<text x="46.14" y="496.55" font-size="7.00" font-weight="bold" fill="#111" stroke="#111" stroke-width="0.3" textLength="4.33" lengthAdjust="spacingAndGlyphs">0</text>
<line x1="52.3" y1="463.73" x2="56.5" y2="463.73" stroke="#444" stroke-width="1.0"/>
<text x="42.12" y="466.28" font-size="7.00" font-weight="bold" fill="#111" stroke="#111" stroke-width="0.3" textLength="8.34" lengthAdjust="spacingAndGlyphs">50</text>
<line x1="52.3" y1="433.45" x2="56.5" y2="433.45" stroke="#444" stroke-width="1.0"/>
<text x="37.44" y="436.00" font-size="7.00" font-weight="bold" fill="#111" stroke="#111" stroke-width="0.3" textLength="13.05" lengthAdjust="spacingAndGlyphs">100</text>
<line x1="52.3" y1="403.18" x2="56.5" y2="403.18" stroke="#444" stroke-width="1.0"/>
<text x="37.44" y="405.73" font-size="7.00" font-weight="bold" fill="#111" stroke="#111" stroke-width="0.3" textLength="13.05" lengthAdjust="spacingAndGlyphs">150</text>
<line x1="52.3" y1="372.90" x2="56.5" y2="372.90" stroke="#444" stroke-width="1.0"/>
<text x="37.68" y="375.45" font-size="7.00" font-weight="bold" fill="#111" stroke="#111" stroke-width="0.3" textLength="12.80" lengthAdjust="spacingAndGlyphs">200</text>
<text x="54.40" y="509.35" font-size="7.57" font-weight="bold" fill="#111" stroke="#111" stroke-width="0.3" textLength="4.22" lengthAdjust="spacingAndGlyphs">0</text>
<line x1="114.25" y1="494.0" x2="114.25" y2="498.2" stroke="#444" stroke-width="1.2"/>
<text x="112.23" y="509.35" font-size="7.68" font-weight="bold" fill="#111" stroke="#111" stroke-width="0.3" textLength="4.00" lengthAdjust="spacingAndGlyphs">5</text>
<line x1="172.00" y1="494.0" x2="172.00" y2="498.2" stroke="#444" stroke-width="1.2"/>
<text x="167.20" y="509.35" font-size="7.57" font-weight="bold" fill="#111" stroke="#111" stroke-width="0.3" textLength="9.41" lengthAdjust="spacingAndGlyphs">10</text>
<line x1="229.75" y1="494.0" x2="229.75" y2="498.2" stroke="#444" stroke-width="1.2"/>
<text x="224.96" y="509.35" font-size="7.68" font-weight="bold" fill="#111" stroke="#111" stroke-width="0.3" textLength="9.27" lengthAdjust="spacingAndGlyphs">15</text>
<line x1="287.50" y1="494.0" x2="287.50" y2="498.2" stroke="#444" stroke-width="1.2"/>
<text x="282.96" y="509.35" font-size="7.57" font-weight="bold" fill="#111" stroke="#111" stroke-width="0.3" textLength="9.14" lengthAdjust="spacingAndGlyphs">20</text>
<text x="42.15" y="522.15" font-size="8.48" font-weight="bold" fill="#111" stroke="#111" stroke-width="0.3" textLength="23.96" lengthAdjust="spacingAndGlyphs">Days</text>
<path d="M102.70,435.63V447.74M101.60,435.63h2.2M101.60,447.74h2.2" stroke="#4e8e4e" stroke-width="0.9" fill="none"/>
<path d="M125.80,440.11V454.64M124.70,440.11h2.2M124.70,454.64h2.2" stroke="#4e8e4e" stroke-width="0.9" fill="none"/>
<path d="M148.90,450.34V469.72M147.80,450.34h2.2M147.80,469.72h2.2" stroke="#4e8e4e" stroke-width="0.9" fill="none"/>
<path d="M183.55,450.40V469.78M182.45,450.40h2.2M182.45,469.78h2.2" stroke="#4e8e4e" stroke-width="0.9" fill="none"/>
<path d="M206.65,459.00V475.96M205.55,459.00h2.2M205.55,475.96h2.2" stroke="#4e8e4e" stroke-width="0.9" fill="none"/>
<path d="M229.75,457.25V469.36M228.65,457.25h2.2M228.65,469.36h2.2" stroke="#4e8e4e" stroke-width="0.9" fill="none"/>
<path d="M264.40,448.89V475.53M263.30,448.89h2.2M263.30,475.53h2.2" stroke="#4e8e4e" stroke-width="0.9" fill="none"/>
<path d="M275.95,448.71V470.51M274.85,448.71h2.2M274.85,470.51h2.2" stroke="#4e8e4e" stroke-width="0.9" fill="none"/>
<path d="M68.05,433.45L102.70,441.68L125.80,447.38L148.90,460.03L183.55,460.09L206.65,467.48L229.75,463.30L264.40,462.21L275.95,459.61" fill="none" stroke="#206e20" stroke-width="1.0"/>
<path d="M102.70,428.85V445.80M101.60,428.85h2.2M101.60,445.80h2.2" stroke="#707070" stroke-width="0.9" fill="none"/>
<path d="M125.80,426.12V445.50M124.70,426.12h2.2M124.70,445.50h2.2" stroke="#707070" stroke-width="0.9" fill="none"/>
<path d="M148.90,429.09V450.89M147.80,429.09h2.2M147.80,450.89h2.2" stroke="#707070" stroke-width="0.9" fill="none"/>
<path d="M183.55,420.98V447.62M182.45,420.98h2.2M182.45,447.62h2.2" stroke="#707070" stroke-width="0.9" fill="none"/>
<path d="M206.65,422.97V449.62M205.55,422.97h2.2M205.55,449.62h2.2" stroke="#707070" stroke-width="0.9" fill="none"/>
<path d="M229.75,429.57V453.79M228.65,429.57h2.2M228.65,453.79h2.2" stroke="#707070" stroke-width="0.9" fill="none"/>
<path d="M264.40,427.27V453.92M263.30,427.27h2.2M263.30,453.92h2.2" stroke="#707070" stroke-width="0.9" fill="none"/>
<path d="M275.95,429.21V457.06M274.85,429.21h2.2M274.85,457.06h2.2" stroke="#707070" stroke-width="0.9" fill="none"/>
<path d="M68.05,433.45L102.70,437.33L125.80,435.81L148.90,439.99L183.55,434.30L206.65,436.30L229.75,441.68L264.40,440.59L275.95,443.14" fill="none" stroke="#3a3a3a" stroke-width="1.0"/>
<path d="M102.70,402.57V453.43M101.60,402.57h2.2M101.60,453.43h2.2" stroke="#7878d8" stroke-width="0.9" fill="none"/>
<path d="M125.80,420.61V441.20M124.70,420.61h2.2M124.70,441.20h2.2" stroke="#7878d8" stroke-width="0.9" fill="none"/>
<path d="M148.90,419.46V452.16M147.80,419.46h2.2M147.80,452.16h2.2" stroke="#7878d8" stroke-width="0.9" fill="none"/>
<path d="M183.55,421.52V455.43M182.45,421.52h2.2M182.45,455.43h2.2" stroke="#7878d8" stroke-width="0.9" fill="none"/>
<path d="M206.65,415.71V456.88M205.55,415.71h2.2M205.55,456.88h2.2" stroke="#7878d8" stroke-width="0.9" fill="none"/>
<path d="M229.75,418.43V457.19M228.65,418.43h2.2M228.65,457.19h2.2" stroke="#7878d8" stroke-width="0.9" fill="none"/>
<path d="M264.40,411.65V447.98M263.30,411.65h2.2M263.30,447.98h2.2" stroke="#7878d8" stroke-width="0.9" fill="none"/>
<path d="M275.95,423.34V453.61M274.85,423.34h2.2M274.85,453.61h2.2" stroke="#7878d8" stroke-width="0.9" fill="none"/>
<path d="M68.05,433.45L102.70,428.00L125.80,430.91L148.90,435.81L183.55,438.48L206.65,436.30L229.75,437.81L264.40,429.82L275.95,438.48" fill="none" stroke="#2a2ad8" stroke-width="1.0"/>
<path d="M68.05,431.45L70.05,433.45L68.05,435.45L66.05,433.45Z" fill="#1a641a"/>
<path d="M102.70,439.68L104.70,441.68L102.70,443.68L100.70,441.68Z" fill="#1a641a"/>
<path d="M125.80,445.38L127.80,447.38L125.80,449.38L123.80,447.38Z" fill="#1a641a"/>
<path d="M148.90,458.03L150.90,460.03L148.90,462.03L146.90,460.03Z" fill="#1a641a"/>
<path d="M183.55,458.09L185.55,460.09L183.55,462.09L181.55,460.09Z" fill="#1a641a"/>
<path d="M206.65,465.48L208.65,467.48L206.65,469.48L204.65,467.48Z" fill="#1a641a"/>
<path d="M229.75,461.30L231.75,463.30L229.75,465.30L227.75,463.30Z" fill="#1a641a"/>
<path d="M264.40,460.21L266.40,462.21L264.40,464.21L262.40,462.21Z" fill="#1a641a"/>
<path d="M275.95,457.61L277.95,459.61L275.95,461.61L273.95,459.61Z" fill="#1a641a"/>
<circle cx="68.05" cy="433.45" r="2.15" fill="#1c1c1c"/>
<circle cx="102.70" cy="437.33" r="2.15" fill="#1c1c1c"/>
<circle cx="125.80" cy="435.81" r="2.15" fill="#1c1c1c"/>
<circle cx="148.90" cy="439.99" r="2.15" fill="#1c1c1c"/>
<circle cx="183.55" cy="434.30" r="2.15" fill="#1c1c1c"/>
<circle cx="206.65" cy="436.30" r="2.15" fill="#1c1c1c"/>
<circle cx="229.75" cy="441.68" r="2.15" fill="#1c1c1c"/>
<circle cx="264.40" cy="440.59" r="2.15" fill="#1c1c1c"/>
<circle cx="275.95" cy="443.14" r="2.15" fill="#1c1c1c"/>
<rect x="65.75" y="431.15" width="4.60" height="4.60" fill="#0c0cc4"/>
<rect x="100.40" y="425.70" width="4.60" height="4.60" fill="#0c0cc4"/>
<rect x="123.50" y="428.61" width="4.60" height="4.60" fill="#0c0cc4"/>
<rect x="146.60" y="433.51" width="4.60" height="4.60" fill="#0c0cc4"/>
<rect x="181.25" y="436.18" width="4.60" height="4.60" fill="#0c0cc4"/>
<rect x="204.35" y="434.00" width="4.60" height="4.60" fill="#0c0cc4"/>
<rect x="227.45" y="435.51" width="4.60" height="4.60" fill="#0c0cc4"/>
<rect x="262.10" y="427.52" width="4.60" height="4.60" fill="#0c0cc4"/>
<rect x="273.65" y="436.18" width="4.60" height="4.60" fill="#0c0cc4"/>
<rect x="65.95" y="431.35" width="4.2" height="4.2" fill="#22224e"/>
<line x1="92.5" y1="421.7" x2="92.5" y2="427.5" stroke="#3030d0" stroke-width="1.0"/>
<line x1="90.5" y1="423.324" x2="94.5" y2="423.324" stroke="#3030d0" stroke-width="1.0"/>
<line x1="90.5" y1="425.876" x2="94.5" y2="425.876" stroke="#3030d0" stroke-width="1.0"/>
<line x1="114.8" y1="430.8" x2="114.8" y2="436.5" stroke="#444" stroke-width="1.0"/>
<line x1="112.8" y1="432.396" x2="116.8" y2="432.396" stroke="#444" stroke-width="1.0"/>
<line x1="112.8" y1="434.904" x2="116.8" y2="434.904" stroke="#444" stroke-width="1.0"/>
<line x1="175.0" y1="439.7" x2="175.0" y2="445.09999999999997" stroke="#3030d0" stroke-width="1.0"/>
<line x1="173.0" y1="441.212" x2="177.0" y2="441.212" stroke="#3030d0" stroke-width="1.0"/>
<line x1="173.0" y1="443.58799999999997" x2="177.0" y2="443.58799999999997" stroke="#3030d0" stroke-width="1.0"/>
<line x1="180.0" y1="439.7" x2="180.0" y2="445.09999999999997" stroke="#3030d0" stroke-width="1.0"/>
<line x1="178.0" y1="441.212" x2="182.0" y2="441.212" stroke="#3030d0" stroke-width="1.0"/>
<line x1="178.0" y1="443.58799999999997" x2="182.0" y2="443.58799999999997" stroke="#3030d0" stroke-width="1.0"/>
<line x1="181.0" y1="463.0" x2="181.0" y2="468.4" stroke="#2a7a2a" stroke-width="1.0"/>
<line x1="179.0" y1="464.512" x2="183.0" y2="464.512" stroke="#2a7a2a" stroke-width="1.0"/>
<line x1="179.0" y1="466.888" x2="183.0" y2="466.888" stroke="#2a7a2a" stroke-width="1.0"/>
<line x1="259.8" y1="442.9" x2="259.8" y2="448.29999999999995" stroke="#444" stroke-width="1.0"/>
<line x1="257.8" y1="444.412" x2="261.8" y2="444.412" stroke="#444" stroke-width="1.0"/>
<line x1="257.8" y1="446.78799999999995" x2="261.8" y2="446.78799999999995" stroke="#444" stroke-width="1.0"/>
<path d="M280.7,437.6H283.3V459.4H280.7" fill="none" stroke="#a0a090" stroke-width="1.0"/>
<circle cx="286.9" cy="448.80" r="1.2" fill="#1a1a1a"/>
<text x="1.76" y="538.25" font-size="17.32" font-weight="bold" fill="#111" stroke="#111" stroke-width="0.3" textLength="10.63" lengthAdjust="spacingAndGlyphs">E</text>
<text x="121.79" y="547.10" font-size="12.21" font-weight="bold" fill="#111" stroke="#111" stroke-width="0.3" textLength="77.76" lengthAdjust="spacingAndGlyphs">UZLX-GIST2B</text>
<text x="200.99" y="542.53" font-size="7.87" font-weight="normal" font-style="italic" fill="#111" stroke="#111" stroke-width="0.14" textLength="16.26" lengthAdjust="spacingAndGlyphs">KIT9</text>
<text transform="translate(25.05,674.72) rotate(-90)" x="0" y="0" font-size="10.94" font-weight="bold" fill="#111" stroke="#111" stroke-width="0.3" textLength="138.75" lengthAdjust="spacingAndGlyphs">Relative tumor volume (%)</text>
<line x1="56.5" y1="543.5" x2="56.5" y2="670.0" stroke="#888" stroke-width="1.0"/>
<line x1="52.3" y1="665.1" x2="287.20000000000005" y2="665.1" stroke="#555" stroke-width="1.2"/>
<text x="46.03" y="667.70" font-size="7.14" font-weight="bold" fill="#111" stroke="#111" stroke-width="0.3" textLength="4.45" lengthAdjust="spacingAndGlyphs">0</text>
<line x1="52.3" y1="624.75" x2="56.5" y2="624.75" stroke="#444" stroke-width="1.0"/>
<text x="37.13" y="627.35" font-size="7.14" font-weight="bold" fill="#111" stroke="#111" stroke-width="0.3" textLength="13.37" lengthAdjust="spacingAndGlyphs">100</text>
<line x1="52.3" y1="584.40" x2="56.5" y2="584.40" stroke="#444" stroke-width="1.0"/>
<text x="37.37" y="587.00" font-size="7.14" font-weight="bold" fill="#111" stroke="#111" stroke-width="0.3" textLength="13.12" lengthAdjust="spacingAndGlyphs">200</text>
<line x1="52.3" y1="544.05" x2="56.5" y2="544.05" stroke="#444" stroke-width="1.0"/>
<text x="37.45" y="546.65" font-size="7.14" font-weight="bold" fill="#111" stroke="#111" stroke-width="0.3" textLength="13.04" lengthAdjust="spacingAndGlyphs">300</text>
<text x="54.40" y="680.65" font-size="7.00" font-weight="bold" fill="#111" stroke="#111" stroke-width="0.3" textLength="4.22" lengthAdjust="spacingAndGlyphs">0</text>
<line x1="94.85" y1="665.1" x2="94.85" y2="669.3000000000001" stroke="#444" stroke-width="1.2"/>
<text x="92.83" y="680.65" font-size="7.10" font-weight="bold" fill="#111" stroke="#111" stroke-width="0.3" textLength="4.00" lengthAdjust="spacingAndGlyphs">5</text>
<line x1="133.20" y1="665.1" x2="133.20" y2="669.3000000000001" stroke="#444" stroke-width="1.2"/>
<text x="128.40" y="680.65" font-size="7.00" font-weight="bold" fill="#111" stroke="#111" stroke-width="0.3" textLength="9.41" lengthAdjust="spacingAndGlyphs">10</text>
<line x1="171.55" y1="665.1" x2="171.55" y2="669.3000000000001" stroke="#444" stroke-width="1.2"/>
<text x="166.76" y="680.65" font-size="7.10" font-weight="bold" fill="#111" stroke="#111" stroke-width="0.3" textLength="9.27" lengthAdjust="spacingAndGlyphs">15</text>
<line x1="209.90" y1="665.1" x2="209.90" y2="669.3000000000001" stroke="#444" stroke-width="1.2"/>
<text x="205.36" y="680.65" font-size="7.00" font-weight="bold" fill="#111" stroke="#111" stroke-width="0.3" textLength="9.14" lengthAdjust="spacingAndGlyphs">20</text>
<line x1="248.25" y1="665.1" x2="248.25" y2="669.3000000000001" stroke="#444" stroke-width="1.2"/>
<text x="243.72" y="680.65" font-size="7.00" font-weight="bold" fill="#111" stroke="#111" stroke-width="0.3" textLength="9.00" lengthAdjust="spacingAndGlyphs">25</text>
<line x1="286.60" y1="665.1" x2="286.60" y2="669.3000000000001" stroke="#444" stroke-width="1.2"/>
<text x="282.15" y="680.65" font-size="7.00" font-weight="bold" fill="#111" stroke="#111" stroke-width="0.3" textLength="9.05" lengthAdjust="spacingAndGlyphs">30</text>
<text x="42.15" y="690.65" font-size="8.62" font-weight="bold" fill="#111" stroke="#111" stroke-width="0.3" textLength="23.96" lengthAdjust="spacingAndGlyphs">Days</text>
<path d="M87.18,624.75V636.86M86.08,624.75h2.2M86.08,636.86h2.2" stroke="#4e8e4e" stroke-width="0.9" fill="none"/>
<path d="M102.52,624.83V649.04M101.42,624.83h2.2M101.42,649.04h2.2" stroke="#4e8e4e" stroke-width="0.9" fill="none"/>
<path d="M117.86,634.64V653.20M116.76,634.64h2.2M116.76,653.20h2.2" stroke="#4e8e4e" stroke-width="0.9" fill="none"/>
<path d="M140.87,642.26V658.40M139.77,642.26h2.2M139.77,658.40h2.2" stroke="#4e8e4e" stroke-width="0.9" fill="none"/>
<path d="M156.21,636.65V654.41M155.11,636.65h2.2M155.11,654.41h2.2" stroke="#4e8e4e" stroke-width="0.9" fill="none"/>
<path d="M171.55,642.10V654.21M170.45,642.10h2.2M170.45,654.21h2.2" stroke="#4e8e4e" stroke-width="0.9" fill="none"/>
<path d="M194.56,645.85V657.96M193.46,645.85h2.2M193.46,657.96h2.2" stroke="#4e8e4e" stroke-width="0.9" fill="none"/>
<path d="M209.90,643.55V655.66M208.80,643.55h2.2M208.80,655.66h2.2" stroke="#4e8e4e" stroke-width="0.9" fill="none"/>
<path d="M225.24,639.88V651.99M224.14,639.88h2.2M224.14,651.99h2.2" stroke="#4e8e4e" stroke-width="0.9" fill="none"/>
<path d="M248.25,645.37V655.05M247.15,645.37h2.2M247.15,655.05h2.2" stroke="#4e8e4e" stroke-width="0.9" fill="none"/>
<path d="M263.59,645.37V655.05M262.49,645.37h2.2M262.49,655.05h2.2" stroke="#4e8e4e" stroke-width="0.9" fill="none"/>
<path d="M278.93,645.57V655.25M277.83,645.57h2.2M277.83,655.25h2.2" stroke="#4e8e4e" stroke-width="0.9" fill="none"/>
<path d="M64.17,624.75L87.18,630.80L102.52,636.94L117.86,643.92L140.87,650.33L156.21,645.53L171.55,648.15L194.56,651.91L209.90,649.61L225.24,645.93L248.25,650.21L263.59,650.21L278.93,650.41" fill="none" stroke="#206e20" stroke-width="1.0"/>
<path d="M87.18,618.37V636.13M86.08,618.37h2.2M86.08,636.13h2.2" stroke="#7878d8" stroke-width="0.9" fill="none"/>
<path d="M102.52,612.24V628.38M101.42,612.24h2.2M101.42,628.38h2.2" stroke="#7878d8" stroke-width="0.9" fill="none"/>
<path d="M117.86,604.58V624.75M116.76,604.58h2.2M116.76,624.75h2.2" stroke="#7878d8" stroke-width="0.9" fill="none"/>
<path d="M140.87,609.58V629.75M139.77,609.58h2.2M139.77,629.75h2.2" stroke="#7878d8" stroke-width="0.9" fill="none"/>
<path d="M156.21,598.93V623.14M155.11,598.93h2.2M155.11,623.14h2.2" stroke="#7878d8" stroke-width="0.9" fill="none"/>
<path d="M171.55,601.95V626.16M170.45,601.95h2.2M170.45,626.16h2.2" stroke="#7878d8" stroke-width="0.9" fill="none"/>
<path d="M194.56,601.75V624.35M193.46,601.75h2.2M193.46,624.35h2.2" stroke="#7878d8" stroke-width="0.9" fill="none"/>
<path d="M209.90,604.37V628.58M208.80,604.37h2.2M208.80,628.58h2.2" stroke="#7878d8" stroke-width="0.9" fill="none"/>
<path d="M225.24,601.55V625.76M224.14,601.55h2.2M224.14,625.76h2.2" stroke="#7878d8" stroke-width="0.9" fill="none"/>
<path d="M248.25,590.05V618.29M247.15,590.05h2.2M247.15,618.29h2.2" stroke="#7878d8" stroke-width="0.9" fill="none"/>
<path d="M263.59,588.03V616.28M262.49,588.03h2.2M262.49,616.28h2.2" stroke="#7878d8" stroke-width="0.9" fill="none"/>
<path d="M278.93,585.61V613.86M277.83,585.61h2.2M277.83,613.86h2.2" stroke="#7878d8" stroke-width="0.9" fill="none"/>
<path d="M64.17,624.75L87.18,627.25L102.52,620.31L117.86,614.66L140.87,619.67L156.21,611.03L171.55,614.06L194.56,613.05L209.90,616.48L225.24,613.65L248.25,604.17L263.59,602.15L278.93,599.73" fill="none" stroke="#2a2ad8" stroke-width="1.0"/>
<path d="M87.18,618.86V636.61M86.08,618.86h2.2M86.08,636.61h2.2" stroke="#707070" stroke-width="0.9" fill="none"/>
<path d="M102.52,599.85V622.45M101.42,599.85h2.2M101.42,622.45h2.2" stroke="#707070" stroke-width="0.9" fill="none"/>
<path d="M117.86,575.93V622.73M116.76,575.93h2.2M116.76,622.73h2.2" stroke="#707070" stroke-width="0.9" fill="none"/>
<path d="M140.87,588.11V623.62M139.77,588.11h2.2M139.77,623.62h2.2" stroke="#707070" stroke-width="0.9" fill="none"/>
<path d="M156.21,561.16V616.84M155.11,561.16h2.2M155.11,616.84h2.2" stroke="#707070" stroke-width="0.9" fill="none"/>
<path d="M171.55,573.99V617.57M170.45,573.99h2.2M170.45,617.57h2.2" stroke="#707070" stroke-width="0.9" fill="none"/>
<path d="M194.56,581.98V617.49M193.46,581.98h2.2M193.46,617.49h2.2" stroke="#707070" stroke-width="0.9" fill="none"/>
<path d="M209.90,562.73V622.45M208.80,562.73h2.2M208.80,622.45h2.2" stroke="#707070" stroke-width="0.9" fill="none"/>
<path d="M225.24,552.12V615.87M224.14,552.12h2.2M224.14,615.87h2.2" stroke="#707070" stroke-width="0.9" fill="none"/>
<path d="M248.25,545.26V607.40M247.15,545.26h2.2M247.15,607.40h2.2" stroke="#707070" stroke-width="0.9" fill="none"/>
<path d="M263.59,548.89V600.54M262.49,548.89h2.2M262.49,600.54h2.2" stroke="#707070" stroke-width="0.9" fill="none"/>
<path d="M278.93,555.35V598.93M277.83,555.35h2.2M277.83,598.93h2.2" stroke="#707070" stroke-width="0.9" fill="none"/>
<path d="M64.17,624.75L87.18,627.74L102.52,611.15L117.86,599.33L140.87,605.87L156.21,589.00L171.55,595.78L194.56,599.73L209.90,592.59L225.24,584.00L248.25,576.33L263.59,574.72L278.93,577.14" fill="none" stroke="#3a3a3a" stroke-width="1.0"/>
<path d="M64.17,622.75L66.17,624.75L64.17,626.75L62.17,624.75Z" fill="#1a641a"/>
<path d="M87.18,628.80L89.18,630.80L87.18,632.80L85.18,630.80Z" fill="#1a641a"/>
<path d="M102.52,634.94L104.52,636.94L102.52,638.94L100.52,636.94Z" fill="#1a641a"/>
<path d="M117.86,641.92L119.86,643.92L117.86,645.92L115.86,643.92Z" fill="#1a641a"/>
<path d="M140.87,648.33L142.87,650.33L140.87,652.33L138.87,650.33Z" fill="#1a641a"/>
<path d="M156.21,643.53L158.21,645.53L156.21,647.53L154.21,645.53Z" fill="#1a641a"/>
<path d="M171.55,646.15L173.55,648.15L171.55,650.15L169.55,648.15Z" fill="#1a641a"/>
<path d="M194.56,649.91L196.56,651.91L194.56,653.91L192.56,651.91Z" fill="#1a641a"/>
<path d="M209.90,647.61L211.90,649.61L209.90,651.61L207.90,649.61Z" fill="#1a641a"/>
<path d="M225.24,643.93L227.24,645.93L225.24,647.93L223.24,645.93Z" fill="#1a641a"/>
<path d="M248.25,648.21L250.25,650.21L248.25,652.21L246.25,650.21Z" fill="#1a641a"/>
<path d="M263.59,648.21L265.59,650.21L263.59,652.21L261.59,650.21Z" fill="#1a641a"/>
<path d="M278.93,648.41L280.93,650.41L278.93,652.41L276.93,650.41Z" fill="#1a641a"/>
<rect x="61.87" y="622.45" width="4.60" height="4.60" fill="#0c0cc4"/>
<rect x="84.88" y="624.95" width="4.60" height="4.60" fill="#0c0cc4"/>
<rect x="100.22" y="618.01" width="4.60" height="4.60" fill="#0c0cc4"/>
<rect x="115.56" y="612.36" width="4.60" height="4.60" fill="#0c0cc4"/>
<rect x="138.57" y="617.37" width="4.60" height="4.60" fill="#0c0cc4"/>
<rect x="153.91" y="608.73" width="4.60" height="4.60" fill="#0c0cc4"/>
<rect x="169.25" y="611.76" width="4.60" height="4.60" fill="#0c0cc4"/>
<rect x="192.26" y="610.75" width="4.60" height="4.60" fill="#0c0cc4"/>
<rect x="207.60" y="614.18" width="4.60" height="4.60" fill="#0c0cc4"/>
<rect x="222.94" y="611.35" width="4.60" height="4.60" fill="#0c0cc4"/>
<rect x="245.95" y="601.87" width="4.60" height="4.60" fill="#0c0cc4"/>
<rect x="261.29" y="599.85" width="4.60" height="4.60" fill="#0c0cc4"/>
<rect x="276.63" y="597.43" width="4.60" height="4.60" fill="#0c0cc4"/>
<circle cx="64.17" cy="624.75" r="2.15" fill="#1c1c1c"/>
<circle cx="87.18" cy="627.74" r="2.15" fill="#1c1c1c"/>
<circle cx="102.52" cy="611.15" r="2.15" fill="#1c1c1c"/>
<circle cx="117.86" cy="599.33" r="2.15" fill="#1c1c1c"/>
<circle cx="140.87" cy="605.87" r="2.15" fill="#1c1c1c"/>
<circle cx="156.21" cy="589.00" r="2.15" fill="#1c1c1c"/>
<circle cx="171.55" cy="595.78" r="2.15" fill="#1c1c1c"/>
<circle cx="194.56" cy="599.73" r="2.15" fill="#1c1c1c"/>
<circle cx="209.90" cy="592.59" r="2.15" fill="#1c1c1c"/>
<circle cx="225.24" cy="584.00" r="2.15" fill="#1c1c1c"/>
<circle cx="248.25" cy="576.33" r="2.15" fill="#1c1c1c"/>
<circle cx="263.59" cy="574.72" r="2.15" fill="#1c1c1c"/>
<circle cx="278.93" cy="577.14" r="2.15" fill="#1c1c1c"/>
<rect x="62.07" y="622.65" width="4.2" height="4.2" fill="#22224e"/>
<line x1="84.0" y1="618.0" x2="84.0" y2="624.0" stroke="#3030d0" stroke-width="1.1"/>
<line x1="82.0" y1="619.68" x2="86.0" y2="619.68" stroke="#3030d0" stroke-width="1.1"/>
<line x1="262.3" y1="593.3" x2="262.3" y2="599.0999999999999" stroke="#3030d0" stroke-width="1.0"/>
<line x1="260.3" y1="594.924" x2="264.3" y2="594.924" stroke="#3030d0" stroke-width="1.0"/>
<line x1="260.3" y1="597.476" x2="264.3" y2="597.476" stroke="#3030d0" stroke-width="1.0"/>
<path d="M285.09999999999997,600.0H287.9V651.5H285.09999999999997" fill="none" stroke="#606060" stroke-width="1.0"/>
<circle cx="291.9" cy="627.30" r="1.2" fill="#1a1a1a"/>
<path d="M296.2,578.6H299.0V651.5H296.2" fill="none" stroke="#606060" stroke-width="1.0"/>
<circle cx="304.5" cy="608.55" r="1.2" fill="#1a1a1a"/>
<circle cx="304.5" cy="612.65" r="1.2" fill="#1a1a1a"/>
<circle cx="304.5" cy="616.75" r="1.2" fill="#1a1a1a"/>
<circle cx="304.5" cy="620.85" r="1.2" fill="#1a1a1a"/>
<line x1="379.2" y1="347.8" x2="391.5" y2="347.8" stroke="#3a3a3a" stroke-width="0.8" opacity="0.7"/>
<circle cx="385.30" cy="347.80" r="1.83" fill="#1c1c1c"/>
<text x="398.63" y="351.68" font-size="9.52" font-weight="normal" fill="#1a1a1a" stroke="#1a1a1a" stroke-width="0.25" textLength="30.01" lengthAdjust="spacingAndGlyphs">Vehicle</text>
<line x1="379.2" y1="361.3" x2="391.5" y2="361.3" stroke="#2a2ad8" stroke-width="0.8" opacity="0.7"/>
<rect x="383.35" y="359.35" width="3.91" height="3.91" fill="#0c0cc4"/>
<text x="398.06" y="364.98" font-size="9.38" font-weight="normal" fill="#1a1a1a" stroke="#1a1a1a" stroke-width="0.25" textLength="35.59" lengthAdjust="spacingAndGlyphs">Imatinib</text>
<line x1="379.2" y1="374.5" x2="391.5" y2="374.5" stroke="#c49a60" stroke-width="0.8" opacity="0.7"/>
<path d="M385.30,372.69L386.92,375.81L383.69,375.81Z" fill="#f4d070" stroke="#d09a28" stroke-width="0.8"/>
<text x="398.62" y="378.28" font-size="9.52" font-weight="normal" fill="#1a1a1a" stroke="#1a1a1a" stroke-width="0.25" textLength="46.51" lengthAdjust="spacingAndGlyphs">Avapritinib</text>
<line x1="379.2" y1="388.1" x2="391.5" y2="388.1" stroke="#c070f0" stroke-width="0.8" opacity="0.7"/>
<circle cx="385.30" cy="388.10" r="1.64" fill="#e8d0f8" stroke="#a860d8" stroke-width="0.9"/>
<text x="398.23" y="392.28" font-size="9.66" font-weight="normal" fill="#1a1a1a" stroke="#1a1a1a" stroke-width="0.25" textLength="37.70" lengthAdjust="spacingAndGlyphs">Sunitinib</text>
<line x1="379.2" y1="402.1" x2="391.5" y2="402.1" stroke="#40c840" stroke-width="0.8" opacity="0.7"/>
<path d="M385.30,400.49L386.92,402.10L385.30,403.72L383.69,402.10Z" fill="#e6ffe6" stroke="#30c030" stroke-width="0.8"/>
<text x="398.14" y="405.78" font-size="9.71" font-weight="normal" fill="#1a1a1a" stroke="#1a1a1a" stroke-width="0.25" textLength="50.98" lengthAdjust="spacingAndGlyphs">IDRX-42_10</text>
<line x1="379.2" y1="415.0" x2="391.5" y2="415.0" stroke="#206e20" stroke-width="0.8" opacity="0.7"/>
<path d="M385.30,413.30L387.00,415.00L385.30,416.70L383.60,415.00Z" fill="#1a641a"/>
<text x="398.14" y="418.88" font-size="9.71" font-weight="normal" fill="#1a1a1a" stroke="#1a1a1a" stroke-width="0.25" textLength="50.78" lengthAdjust="spacingAndGlyphs">IDRX-42_25</text>
<line x1="400.7" y1="428.3" x2="400.7" y2="434.90000000000003" stroke="#222" stroke-width="1.0"/>
<line x1="398.7" y1="430.148" x2="402.7" y2="430.148" stroke="#222" stroke-width="1.0"/>
<text x="405.77" y="434.27" font-size="8.97" font-weight="normal" fill="#1a1a1a" stroke="#1a1a1a" stroke-width="0.25" textLength="47.06" lengthAdjust="spacingAndGlyphs">Found dead</text>
<line x1="400.7" y1="440.2" x2="400.7" y2="446.8" stroke="#222" stroke-width="1.0"/>
<line x1="398.7" y1="442.048" x2="402.7" y2="442.048" stroke="#222" stroke-width="1.0"/>
<line x1="398.7" y1="444.952" x2="402.7" y2="444.952" stroke="#222" stroke-width="1.0"/>
<text x="406.08" y="446.98" font-size="8.97" font-weight="normal" fill="#1a1a1a" stroke="#1a1a1a" stroke-width="0.25" textLength="38.62" lengthAdjust="spacingAndGlyphs">Sacrificed</text>
</svg>
</body></html>
